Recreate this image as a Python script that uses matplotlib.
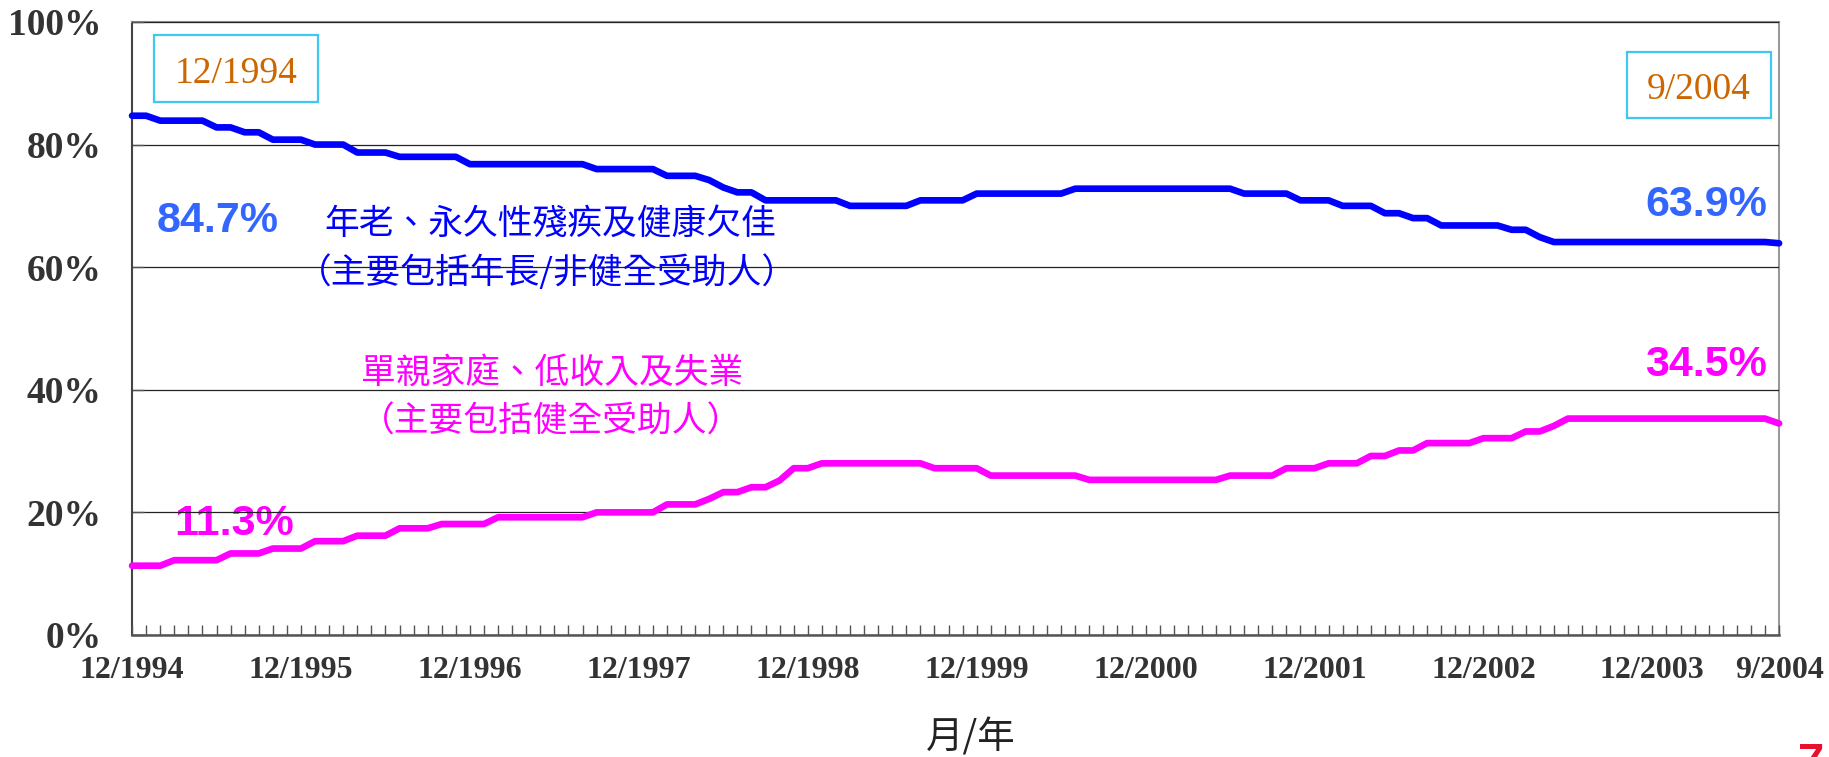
import matplotlib
matplotlib.use('Agg')
import matplotlib.pyplot as plt
from matplotlib.patches import Rectangle

# share of cases by group, monthly from 12/1994 to 9/2004 (percent)
# one row per 12 months
elderly_sick = [
    84.7, 84.7, 83.9, 83.9, 83.9, 83.9, 82.8, 82.8, 82.0, 82.0, 80.8, 80.8,
    80.8, 80.0, 80.0, 80.0, 78.7, 78.7, 78.7, 78.0, 78.0, 78.0, 78.0, 78.0,
    76.8, 76.8, 76.8, 76.8, 76.8, 76.8, 76.8, 76.8, 76.8, 76.0, 76.0, 76.0,
    76.0, 76.0, 74.9, 74.9, 74.9, 74.2, 73.0, 72.2, 72.2, 70.9, 70.9, 70.9,
    70.9, 70.9, 70.9, 70.0, 70.0, 70.0, 70.0, 70.0, 70.9, 70.9, 70.9, 70.9,
    72.0, 72.0, 72.0, 72.0, 72.0, 72.0, 72.0, 72.8, 72.8, 72.8, 72.8, 72.8,
    72.8, 72.8, 72.8, 72.8, 72.8, 72.8, 72.8, 72.0, 72.0, 72.0, 72.0, 70.9,
    70.9, 70.9, 70.0, 70.0, 70.0, 68.8, 68.8, 68.0, 68.0, 66.8, 66.8, 66.8,
    66.8, 66.8, 66.1, 66.1, 64.9, 64.1, 64.1, 64.1, 64.1, 64.1, 64.1, 64.1,
    64.1, 64.1, 64.1, 64.1, 64.1, 64.1, 64.1, 64.1, 64.1, 63.9,
]
single_low_income = [
    11.3, 11.3, 11.3, 12.2, 12.2, 12.2, 12.2, 13.3, 13.3, 13.3, 14.1, 14.1,
    14.1, 15.3, 15.3, 15.3, 16.2, 16.2, 16.2, 17.4, 17.4, 17.4, 18.1, 18.1,
    18.1, 18.1, 19.2, 19.2, 19.2, 19.2, 19.2, 19.2, 19.2, 20.0, 20.0, 20.0,
    20.0, 20.0, 21.3, 21.3, 21.3, 22.2, 23.3, 23.3, 24.1, 24.1, 25.2, 27.2,
    27.2, 28.0, 28.0, 28.0, 28.0, 28.0, 28.0, 28.0, 28.0, 27.2, 27.2, 27.2,
    27.2, 26.0, 26.0, 26.0, 26.0, 26.0, 26.0, 26.0, 25.3, 25.3, 25.3, 25.3,
    25.3, 25.3, 25.3, 25.3, 25.3, 25.3, 26.0, 26.0, 26.0, 26.0, 27.2, 27.2,
    27.2, 28.0, 28.0, 28.0, 29.2, 29.2, 30.1, 30.1, 31.3, 31.3, 31.3, 31.3,
    32.1, 32.1, 32.1, 33.2, 33.2, 34.1, 35.3, 35.3, 35.3, 35.3, 35.3, 35.3,
    35.3, 35.3, 35.3, 35.3, 35.3, 35.3, 35.3, 35.3, 35.3, 34.5,
]

tick_months = [0, 12, 24, 36, 48, 60, 72, 84, 96, 108, 117]
tick_labels = ['12/1994', '12/1995', '12/1996', '12/1997', '12/1998', '12/1999',
               '12/2000', '12/2001', '12/2002', '12/2003', '9/2004']
y_ticks = [0, 20, 40, 60, 80, 100]

elderly_text = ['年老、永久性殘疾及健康欠佳', '（主要包括年長/非健全受助人）']
single_text = ['單親家庭、低收入及失業', '（主要包括健全受助人）']

months = list(range(len(elderly_sick)))

CJK = ['Noto Sans CJK TC', 'DejaVu Sans']
SERIF = 'Liberation Serif'
SANS = 'Liberation Sans'

fig = plt.figure(figsize=(18.29, 7.57), dpi=100)
ax = fig.add_axes([0.0722, 0.1612, 0.9005, 0.8098])

ax.plot(months, elderly_sick, color='#0000FF', lw=4.8, solid_joinstyle='round',
        solid_capstyle='round', zorder=3, clip_on=False)
ax.plot(months, single_low_income, color='#FF00FF', lw=4.8, solid_joinstyle='round',
        solid_capstyle='round', zorder=3, clip_on=False)

ax.set_xlim(0, months[-1])
ax.set_ylim(0, 100)

# axis ticks
ax.set_xticks(tick_months)
ax.set_xticklabels(tick_labels)
ax.set_xticks(months, minor=True)
ax.tick_params(axis='x', which='both', direction='in', length=7, width=1, color='#555555')
ax.tick_params(axis='x', which='major', pad=15, labelsize=23, labelcolor='#333333')
for lab in ax.get_xticklabels():
    lab.set_fontfamily(SERIF)
    lab.set_fontweight('bold')

ax.set_yticks(y_ticks)
ax.set_yticklabels([f'{v}%' for v in y_ticks])
ax.tick_params(axis='y', direction='in', length=8.5, width=1, color='#555555',
               pad=22, labelsize=27, labelcolor='#333333')
for lab in ax.get_yticklabels():
    lab.set_fontfamily(SERIF)
    lab.set_fontweight('bold')

ax.set_axisbelow(False)
ax.grid(axis='y', color='#222222', lw=0.9)

ax.spines['left'].set_color('#444444')
ax.spines['left'].set_linewidth(1.5)
ax.spines['bottom'].set_color('#555555')
ax.spines['bottom'].set_linewidth(1.8)
ax.spines['top'].set_color('#8a8a8a')
ax.spines['top'].set_linewidth(1.5)
ax.spines['right'].set_color('#999999')
ax.spines['right'].set_linewidth(1.5)

# date boxes
ax.add_patch(Rectangle((0.0134, 0.8695), 0.0996, 0.1093, transform=ax.transAxes,
                       fill=False, ec='#3FC8F2', lw=1.6, zorder=1))
ax.text(0.0631, 0.9005, tick_labels[0], transform=ax.transAxes, ha='center',
        va='baseline', fontsize=27, color='#CC6600', family=SERIF, zorder=1)
ax.add_patch(Rectangle((0.9077, 0.8434), 0.0874, 0.1077, transform=ax.transAxes,
                       fill=False, ec='#3FC8F2', lw=1.6, zorder=1))
ax.text(0.9514, 0.8744, tick_labels[-1], transform=ax.transAxes, ha='center',
        va='baseline', fontsize=27, color='#CC6600', family=SERIF, zorder=1)

# start / end values
pct_style = dict(transform=ax.transAxes, ha='center', va='baseline', fontsize=31,
                 fontweight='bold', family=SANS, zorder=1)
ax.text(0.0522, 0.6574, f'{elderly_sick[0]}%', color='#3366FF', **pct_style)
ax.text(0.9557, 0.6835, f'{elderly_sick[-1]}%', color='#3366FF', **pct_style)
ax.text(0.0619, 0.1631, f'{single_low_income[0]}%', color='#FF00FF', **pct_style)
ax.text(0.9557, 0.4225, f'{single_low_income[-1]}%', color='#FF00FF', **pct_style)

# group labels
ax.text(0.2538, 0.6705, elderly_text[0], transform=ax.transAxes, ha='center', va='center',
        fontsize=25, color='#0000FF', family=CJK, zorder=1)
ax.text(0.2520, 0.5905, elderly_text[1], transform=ax.transAxes, ha='center', va='center',
        fontsize=25, color='#0000FF', family=CJK, zorder=1)
ax.text(0.2550, 0.4274, single_text[0], transform=ax.transAxes, ha='center', va='center',
        fontsize=25, color='#FF00FF', family=CJK, zorder=1)
ax.text(0.2544, 0.3475, single_text[1], transform=ax.transAxes, ha='center', va='center',
        fontsize=25, color='#FF00FF', family=CJK, zorder=1)

fig.text(0.5309, 0.0251, '月/年', ha='center', va='center', fontsize=27,
         color='#222222', family=CJK)

# page mark in the corner, cut off by the bottom edge as in the source
fig.text(0.983, 0.0198, '7', ha='left', va='top', fontsize=34, fontweight='bold',
         color='#E8112D', family=SANS)

fig.savefig('out.png', dpi=100, facecolor='white')
